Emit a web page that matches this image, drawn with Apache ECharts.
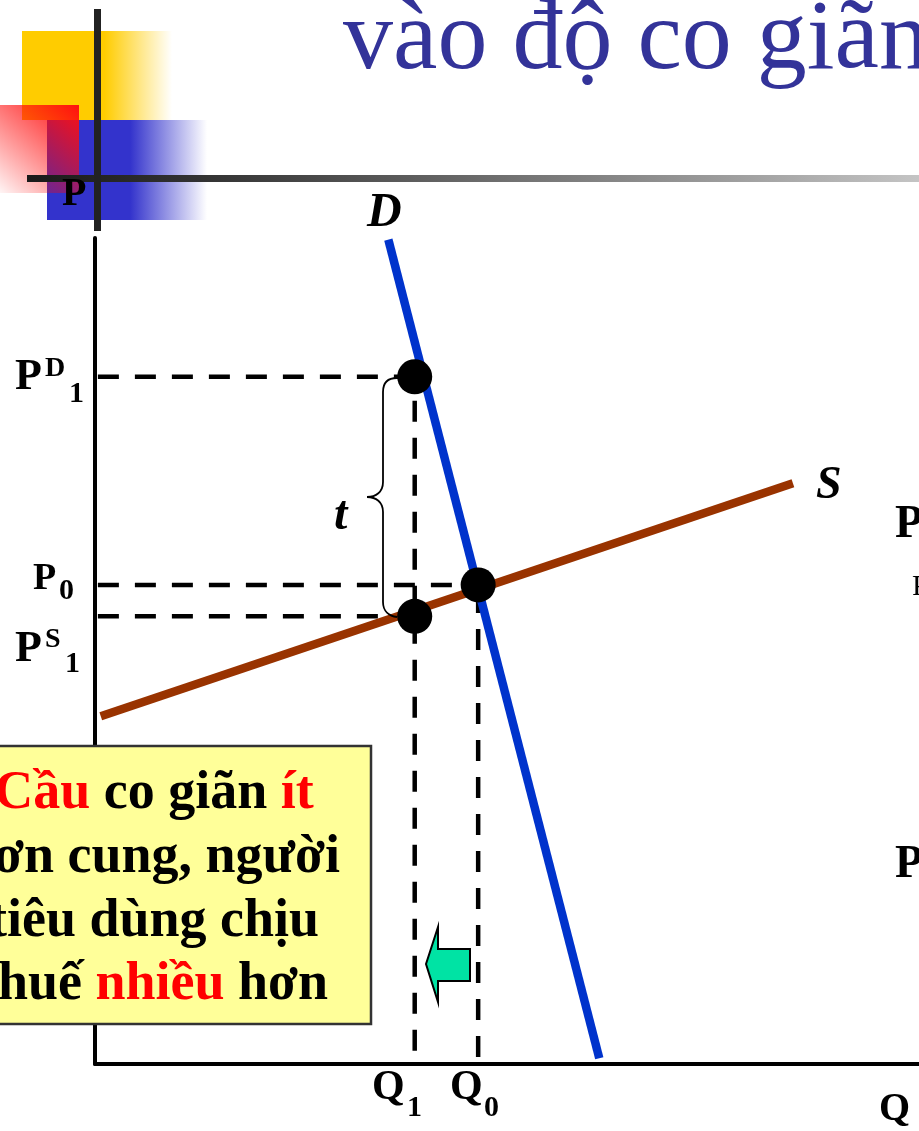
<!DOCTYPE html>
<html>
<head>
<meta charset="utf-8">
<script src="https://cdn.jsdelivr.net/npm/echarts@6/dist/echarts.min.js"></script>
<style>
html,body{margin:0;padding:0;background:#fff;}
#c{width:919px;height:1131px;}
</style>
</head>
<body>
<div id="c"></div>
<script>
// ---- data (chart units: Q 0..100, P 0..100) ----
const demandLine = [[35.6, 99.8], [61.2, 0.7]];
const supplyLine = [[0.7, 42.1], [84.7, 70.3]];
const qValues = { Q1: 38.8, Q0: 46.5 };
const pValues = { PD1: 83.2, P0: 58.0, PS1: 54.2 };
const pointsQ = [38.8, 46.5, 38.8];
const pointsP = [83.2, 58.0, 54.2];
const axisStart = 0.35;
const dashBottom = [1.6, 0.85];

const FONT = '"Liberation Serif", "Times New Roman", serif';
const chart = echarts.init(document.getElementById('c'), null, { renderer: 'canvas' });

function dashed(data) {
  return {
    type: 'line', data: data, symbol: 'none', silent: true, z: 3,
    lineStyle: { color: '#000', width: 4.5, type: [21, 16] }
  };
}
function T(x, base, s, fs, o) {
  o = o || {};
  const font = (o.italic ? 'italic ' : '') + (o.bold === false ? '' : 'bold ') + fs + 'px ' + FONT;
  const st = { text: s, x: x, y: base - 0.285 * fs, font: font, fill: o.fill || '#000',
               align: o.align || 'left', verticalAlign: 'middle' };
  if (o.rich) st.rich = o.rich;
  return { type: 'text', z: o.z || 60, style: st };
}
function L(x1, y1, x2, y2) {
  return { type: 'line', z: 7, shape: { x1: x1, y1: y1, x2: x2, y2: y2 },
           style: { stroke: '#000', lineWidth: 1.8 } };
}
function B(x1, y1, c1x, c1y, c2x, c2y, x2, y2) {
  return { type: 'bezierCurve', z: 7,
           shape: { x1: x1, y1: y1, cpx1: c1x, cpy1: c1y, cpx2: c2x, cpy2: c2y, x2: x2, y2: y2 },
           style: { stroke: '#000', lineWidth: 1.8, fill: null } };
}

const series = [
  dashed([[axisStart, pValues.PD1], [qValues.Q1, pValues.PD1]]),
  dashed([[axisStart, pValues.P0], [qValues.Q0, pValues.P0]]),
  dashed([[axisStart, pValues.PS1], [qValues.Q1, pValues.PS1]]),
  dashed([[qValues.Q1, dashBottom[0]], [qValues.Q1, pValues.PD1]]),
  dashed([[qValues.Q0, dashBottom[1]], [qValues.Q0, pValues.P0]]),
  { type: 'line', name: 'S', data: supplyLine, symbol: 'none', z: 4,
    lineStyle: { color: '#993300', width: 8.5, cap: 'butt' } },
  { type: 'line', name: 'D', data: demandLine, symbol: 'none', z: 5,
    lineStyle: { color: '#0033cc', width: 8.5, cap: 'butt' } },
  { type: 'scatter', data: pointsQ.map((q, i) => [q, pointsP[i]]), symbol: 'circle', symbolSize: 35, z: 6,
    itemStyle: { color: '#000', opacity: 1 }, emphasis: { disabled: true } }
];

const red = '#ff0000';
const richR = { r: { fill: red } };

const graphic = [
  // decoration
  { type: 'rect', z: 1, shape: { x: 22, y: 31, width: 150, height: 89 },
    style: { fill: new echarts.graphic.LinearGradient(0, 0, 1, 0, [
      { offset: 0, color: '#ffcc00' }, { offset: 0.55, color: '#ffcc00' },
      { offset: 1, color: 'rgba(255,204,0,0)' }]) } },
  { type: 'rect', z: 1, shape: { x: 47, y: 120, width: 160, height: 100 },
    style: { fill: new echarts.graphic.LinearGradient(0, 0, 1, 0, [
      { offset: 0, color: '#3333cc' }, { offset: 0.52, color: '#3333cc' },
      { offset: 1, color: 'rgba(51,51,204,0)' }]) } },
  { type: 'rect', z: 2, shape: { x: 0, y: 105, width: 79, height: 88 },
    style: { fill: new echarts.graphic.LinearGradient(1, 0, 0, 1, [
      { offset: 0, color: '#ff1010' }, { offset: 1, color: 'rgba(255,0,0,0.04)' }]) } },
  { type: 'rect', z: 3, shape: { x: 27, y: 175, width: 892, height: 7 },
    style: { fill: new echarts.graphic.LinearGradient(0, 0, 1, 0, [
      { offset: 0, color: '#1a1a1a' }, { offset: 0.2, color: '#333' }, { offset: 1, color: '#c4c4c4' }]) } },
  { type: 'rect', z: 4, shape: { x: 94, y: 9, width: 7, height: 222 }, style: { fill: '#222' } },
  T(62, 206, 'P', 40, { z: 5 }),
  // title
  T(343, 70, 'vào độ co giãn', 100, { bold: false, fill: '#333399' }),
  // axis / curve labels
  T(879, 1121, 'Q', 40),
  T(367, 227, 'D', 48, { italic: true }),
  T(816, 499, 'S', 46, { italic: true }),
  T(334, 530, 't', 48, { italic: true }),
  // P labels
  T(15, 390, 'P', 44), T(45, 377, 'D', 28), T(69, 403, '1', 30),
  T(33, 590, 'P', 38), T(59, 600, '0', 30),
  T(15, 662, 'P', 44), T(45, 648, 'S', 28), T(65, 673, '1', 30),
  // Q labels
  T(372, 1100, 'Q', 42), T(407, 1117, '1', 30),
  T(450, 1100, 'Q', 42), T(484, 1117, '0', 30),
  // right edge partial labels
  T(895, 538, 'P', 46), T(912, 596, 'P', 30, { bold: false }), T(895, 878, 'P', 46),
  // brace
  B(397, 378, 389, 378, 383, 382, 383, 392),
  L(383, 392, 383, 482),
  B(383, 482, 383, 492, 376, 497, 367, 497),
  B(367, 497, 376, 497, 383, 502, 383, 512),
  L(383, 512, 383, 602),
  B(383, 602, 383, 611, 389, 616, 397, 617),
  // arrow
  { type: 'polygon', z: 8, shape: { points: [[426, 964], [438, 927], [438, 949], [470, 949], [470, 981], [438, 981], [438, 1002]] },
    style: { fill: '#00e3a4', stroke: '#000', lineWidth: 2 } },
  // text box
  { type: 'rect', z: 40, shape: { x: -80, y: 746, width: 451, height: 278 },
    style: { fill: '#ffff99', stroke: '#333', lineWidth: 2.5 } },
  T(154, 809, '{r|Cầu} co giãn {r|ít}', 54, { align: 'center', rich: richR, z: 45 }),
  T(152, 873, 'hơn cung, người', 54, { align: 'center', z: 45 }),
  T(154, 937, 'tiêu dùng chịu', 54, { align: 'center', z: 45 }),
  T(154, 1000, 'thuế {r|nhiều} hơn', 54, { align: 'center', rich: richR, z: 45 })
];

chart.setOption({
  animation: false,
  backgroundColor: '#fff',
  grid: { left: 95, right: 0, top: 238, bottom: 67, containLabel: false },
  xAxis: { type: 'value', min: 0, max: 100,
    axisLine: { show: true, onZero: false, lineStyle: { color: '#000', width: 4 } },
    axisTick: { show: false }, axisLabel: { show: false }, splitLine: { show: false } },
  yAxis: { type: 'value', min: 0, max: 100,
    axisLine: { show: true, onZero: false, lineStyle: { color: '#000', width: 4 } },
    axisTick: { show: false }, axisLabel: { show: false }, splitLine: { show: false } },
  series: series,
  graphic: graphic
});
</script>
</body>
</html>
